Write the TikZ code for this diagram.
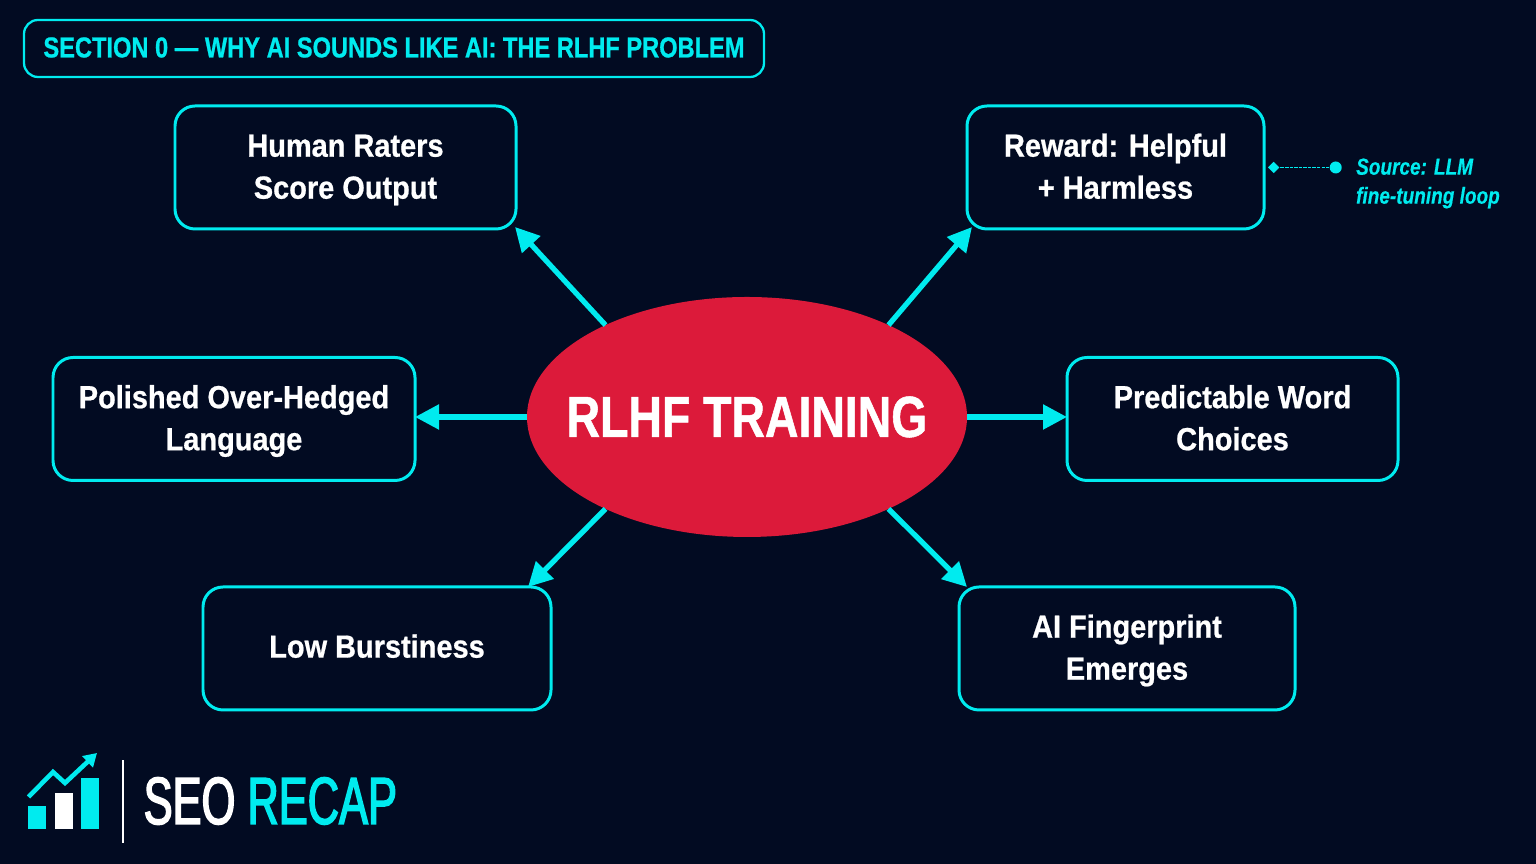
\documentclass[tikz,border=0pt]{standalone}
\usepackage{fontspec}
\setmainfont{Liberation Sans}
\newfontfamily\condfont[FakeStretch=0.905, BoldFeatures={FakeBold=0.7}]{Liberation Sans}
\newfontfamily\headfont[FakeStretch=0.82, BoldFeatures={FakeBold=0.7}, BoldItalicFeatures={FakeBold=0.3}]{Liberation Sans}
\newfontfamily\titlefont[FakeStretch=0.80, BoldFeatures={FakeBold=0.9}]{Liberation Sans}
\newfontfamily\logofont[FakeStretch=0.65, FakeBold=2.2]{Liberation Sans}
\usetikzlibrary{shapes, arrows, arrows.meta, calc, positioning}
\definecolor{night}{HTML}{020B22}
\definecolor{neon}{HTML}{00EBEF}
\definecolor{crimson}{HTML}{DC1A3A}
\newcommand{\boxfont}{\condfont\bfseries\fontsize{9.1pt}{11.95pt}\selectfont}
\tikzstyle{block} = [rectangle, rounded corners=0.2cm, minimum height=1.23cm, draw=neon, line width=0.85pt, inner sep=0pt, outer sep=0pt]
\tikzstyle{arrow} = [line width=1.5pt, neon, -{Triangle[length=0.24cm, width=0.24cm]}]
\tikzset{blocktext/.style={label={[text=white, align=center, yshift=-0.02cm, font=\boxfont]center:{\vphantom{lg}#1\vphantom{lg}}}}}

\begin{document}
\begin{tikzpicture}[auto, node distance=1cm]
    \useasboundingbox [fill=night] (0,0) rectangle (15.36,8.64);
    \node (Rlhf) [ellipse, fill=crimson, minimum width=4.4cm, minimum height=2.4cm, inner sep=0pt, outer sep=0pt, label={[text=white, font=\titlefont\bfseries\fontsize{16.5pt}{18pt}\selectfont]center:RLHF TRAINING}] at (7.47,4.47) {};
    \node (Section) [block, anchor=center, minimum width=7.4cm, minimum height=0.57cm, rounded corners=0.14cm, line width=0.65pt, label={[text=neon, yshift=0.01cm, font=\headfont\bfseries\fontsize{8.2pt}{10pt}\selectfont]center:SECTION 0 — WHY AI SOUNDS LIKE AI: THE RLHF PROBLEM}] at (3.94,8.155) {};
    \node (Human) [block, above = 0.68cm of Rlhf, xshift=-4.015cm, minimum width=3.41cm, blocktext={Human Raters\\Score Output}] {};
    \node (Reward) [block, above = 0.68cm of Rlhf, xshift=3.685cm, minimum width=2.97cm, blocktext={Reward: Helpful\\+ Harmless}] {};
    \node (Polished) [block, left = 1.12cm of Rlhf, yshift=-0.02cm, minimum width=3.62cm, blocktext={Polished Over-Hedged\\Language}] {};
    \node (Predictable) [block, right = 1cm of Rlhf, yshift=-0.02cm, minimum width=3.31cm, blocktext={Predictable Word\\Choices}] {};
    \node (Low) [block, below = 0.5cm of Rlhf, xshift=-3.7cm, minimum width=3.48cm, blocktext={\raisebox{0.6pt}{Low Burstiness}}] {};
    \node (Fingerprint) [block, below = 0.5cm of Rlhf, xshift=3.8cm, minimum width=3.36cm, blocktext={AI Fingerprint\\Emerges}] {};
    \draw [arrow] (Rlhf.147) -- ($(Human.south east) + (-0.01,0.02)$);
    \draw [arrow] (Rlhf.33) -- ($(Reward.south west) + (0.05,0.02)$);
    \draw [arrow] (Rlhf.west) -- (Polished.east |- Rlhf.west);
    \draw [arrow] (Rlhf.east) -- (Predictable.west |- Rlhf.east);
    \draw [arrow] (Rlhf.213) -- ($(Low.north east) + (-0.23,0)$);
    \draw [arrow] (Rlhf.-33) -- ($(Fingerprint.north west) + (0.08,0)$);
    % source note
    \node (Start) [diamond, fill=neon, minimum size=0.12cm, inner sep=0pt, right = 0.03cm of Reward.east] {};
    \node (End) [circle, fill=neon, minimum size=0.12cm, inner sep=0pt] at ($(Start) + (0.62,0)$) {};
    \draw [neon, line width=0.5pt, dash pattern=on 1pt off 0.3pt] (Start) -- (End);
    \node (Source) [right = 0.13cm of End, align=left, inner sep=0pt, text=neon, yshift=-0.16cm, font=\headfont\bfseries\itshape\fontsize{6.6pt}{8.25pt}\selectfont] {Source: LLM\\fine-tuning loop};
    % logo
    \fill [neon] (0.28,0.35) rectangle (0.46,0.575);
    \fill [white] (0.545,0.35) rectangle (0.73,0.71);
    \fill [neon] (0.81,0.35) rectangle (0.99,0.86);
    \draw [neon, line width=1.3pt, -{Triangle[length=0.13cm, width=0.15cm]}] (0.285,0.67) -- (0.53,0.92) -- (0.65,0.81) -- (0.97,1.11);
    \draw [white, line width=0.7pt] (1.23,0.21) -- (1.23,1.04);
    \node (Logo) [anchor=west, inner sep=0pt, text=white, font=\logofont\fontsize{19pt}{20pt}\selectfont] at (1.43,0.63) {SEO \textcolor{neon}{RECAP}};
\end{tikzpicture}
\end{document}
